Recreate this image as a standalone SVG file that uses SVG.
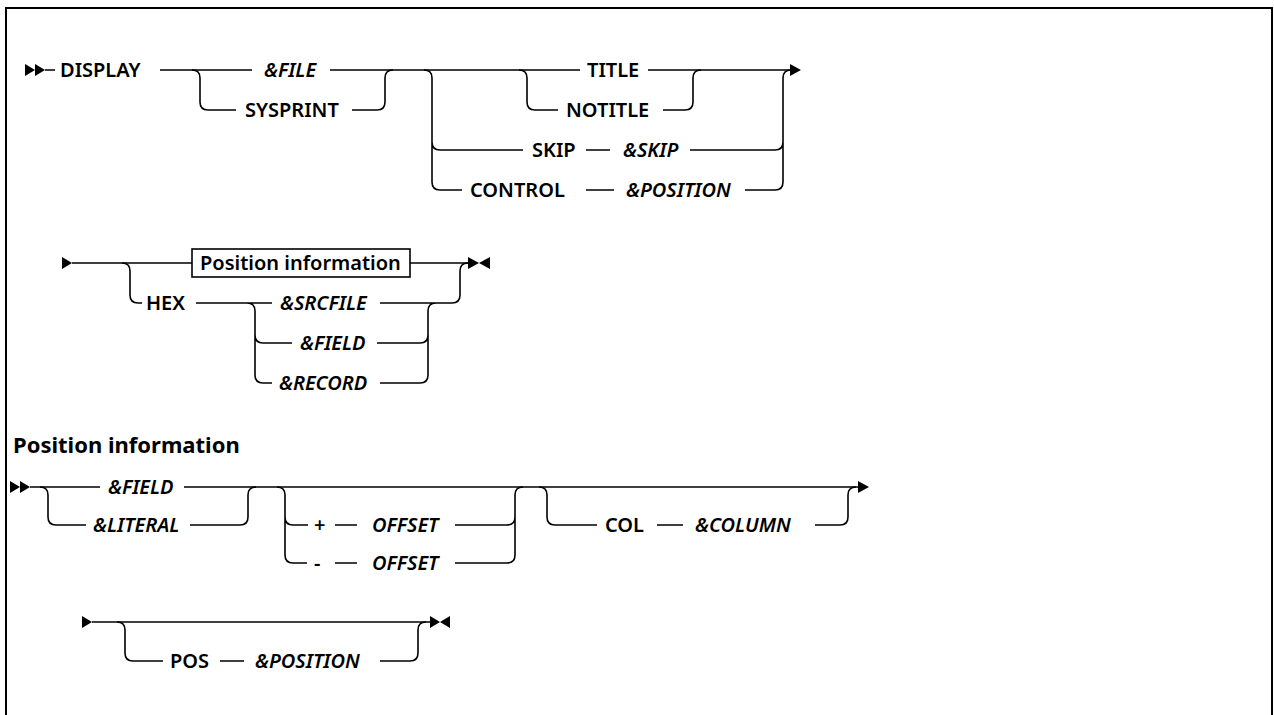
<svg xmlns="http://www.w3.org/2000/svg" width="1274" height="715" viewBox="0 0 1274 715">
<style>
.t{font-family:"Noto Sans","Liberation Sans",sans-serif;font-size:20px;fill:#000;font-weight:600}
.v{font-style:italic}
.h{font-family:"Noto Sans","Liberation Sans",sans-serif;font-size:22px;font-weight:700}
.l{fill:none;stroke:#000;stroke-width:1.6}
.a{fill:#000}
</style>
<rect x="6" y="8" width="1266" height="730" fill="#fff" stroke="#000" stroke-width="2"/>
<g id="connectors">
<polygon class="a" points="25,64 35,70 25,76"/><polygon class="a" points="35,64 45,70 35,76"/>
<path class="l" d="M45,70 H55 M160,70 H252 M330,70 H580 M648,70 H790"/>
<polygon class="a" points="790,64 801,70 790,76"/>
<path class="l" d="M192,70 Q200,70 200,78 V102 Q200,110 208,110 H236 M352,110 H377 Q385,110 385,102 V78 Q385,70 393,70"/>
<path class="l" d="M424,70 Q432,70 432,78 V182 Q432,190 440,190 H462 M432,142 Q432,150 440,150 H523 M586,150 H610 M586,190 H614 M690,150 H775 Q783,150 783,142 M745,190 H775 Q783,190 783,182 V78 Q783,70 791,70"/>
<path class="l" d="M519,70 Q527,70 527,78 V102 Q527,110 535,110 H558 M663,110 H685 Q693,110 693,102 V78 Q693,70 701,70"/>
<polygon class="a" points="62,257 72,263 62,269"/>
<path class="l" d="M72,263 H192 M410,263 H468"/>
<polygon class="a" points="468,257 479,263 468,269"/><polygon class="a" points="490,257 479,263 490,269"/>
<path class="l" d="M122,263 Q130,263 130,271 V295 Q130,303 138,303 H142 M196,303 H272 M247,303 Q255,303 255,311 V375 Q255,383 263,383 H272 M255,335 Q255,343 263,343 H292 M380,303 H452 Q460,303 460,295 V271 Q460,263 468,263 M377,343 H420 Q428,343 428,335 M380,383 H420 Q428,383 428,375 V311 Q428,303 436,303"/>
<polygon class="a" points="10,481 20,487 10,493"/><polygon class="a" points="20,481 30,487 20,493"/>
<path class="l" d="M30,487 H100 M184,487 H858"/>
<polygon class="a" points="858,481 869,487 858,493"/>
<path class="l" d="M40,487 Q48,487 48,495 V517 Q48,525 56,525 H86 M190,525 H240 Q248,525 248,517 V495 Q248,487 256,487"/>
<path class="l" d="M277,487 Q285,487 285,495 V555 Q285,563 293,563 H307 M285,517 Q285,525 293,525 H308 M335,525 H357 M335,563 H357 M455,525 H507 Q515,525 515,517 M455,563 H507 Q515,563 515,555 V495 Q515,487 523,487"/>
<path class="l" d="M539,487 Q547,487 547,495 V517 Q547,525 555,525 H597 M657,525 H683 M815,525 H840 Q848,525 848,517 V495 Q848,487 856,487"/>
<polygon class="a" points="82,616 92,622 82,628"/>
<path class="l" d="M92,622 H430"/>
<polygon class="a" points="430,616 440,622 430,628"/><polygon class="a" points="450,616 440,622 450,628"/>
<path class="l" d="M117,622 Q125,622 125,630 V653 Q125,661 133,661 H163 M220,661 H244 M380,661 H410 Q418,661 418,653 V630 Q418,622 426,622"/>
</g>
<g id="n-display"><text class="t" x="60" y="77">DISPLAY</text></g>
<g id="n-file"><text class="t v" x="264" y="77">&amp;FILE</text></g>
<g id="n-sysprint"><text class="t" x="245" y="117">SYSPRINT</text></g>
<g id="n-title"><text class="t" x="587" y="77">TITLE</text></g>
<g id="n-notitle"><text class="t" x="566" y="117">NOTITLE</text></g>
<g id="n-skip"><text class="t" x="532" y="157">SKIP</text></g>
<g id="n-skipv"><text class="t v" x="623" y="157">&amp;SKIP</text></g>
<g id="n-control"><text class="t" x="470" y="197">CONTROL</text></g>
<g id="n-position"><text class="t v" x="626" y="197">&amp;POSITION</text></g>
<g id="n-posinfo"><rect x="192" y="249" width="218" height="28" fill="#fff" stroke="#000" stroke-width="1.6"/><text class="t" x="200" y="270">Position information</text></g>
<g id="n-hex"><text class="t" x="146" y="310">HEX</text></g>
<g id="n-srcfile"><text class="t v" x="280" y="310">&amp;SRCFILE</text></g>
<g id="n-field1"><text class="t v" x="300" y="350">&amp;FIELD</text></g>
<g id="n-record"><text class="t v" x="279" y="390">&amp;RECORD</text></g>
<g id="heading"><text class="h" x="13" y="453">Position information</text></g>
<g id="n-field2"><text class="t v" x="108" y="494">&amp;FIELD</text></g>
<g id="n-literal"><text class="t v" x="93" y="532">&amp;LITERAL</text></g>
<g id="n-plus"><text class="t" x="314" y="532">+</text></g>
<g id="n-offset1"><text class="t v" x="372" y="532">OFFSET</text></g>
<g id="n-minus"><text class="t" x="314" y="570">-</text></g>
<g id="n-offset2"><text class="t v" x="372" y="570">OFFSET</text></g>
<g id="n-col"><text class="t" x="605" y="532">COL</text></g>
<g id="n-column"><text class="t v" x="695" y="532">&amp;COLUMN</text></g>
<g id="n-pos"><text class="t" x="170" y="668">POS</text></g>
<g id="n-posv"><text class="t v" x="255" y="668">&amp;POSITION</text></g>
</svg>
